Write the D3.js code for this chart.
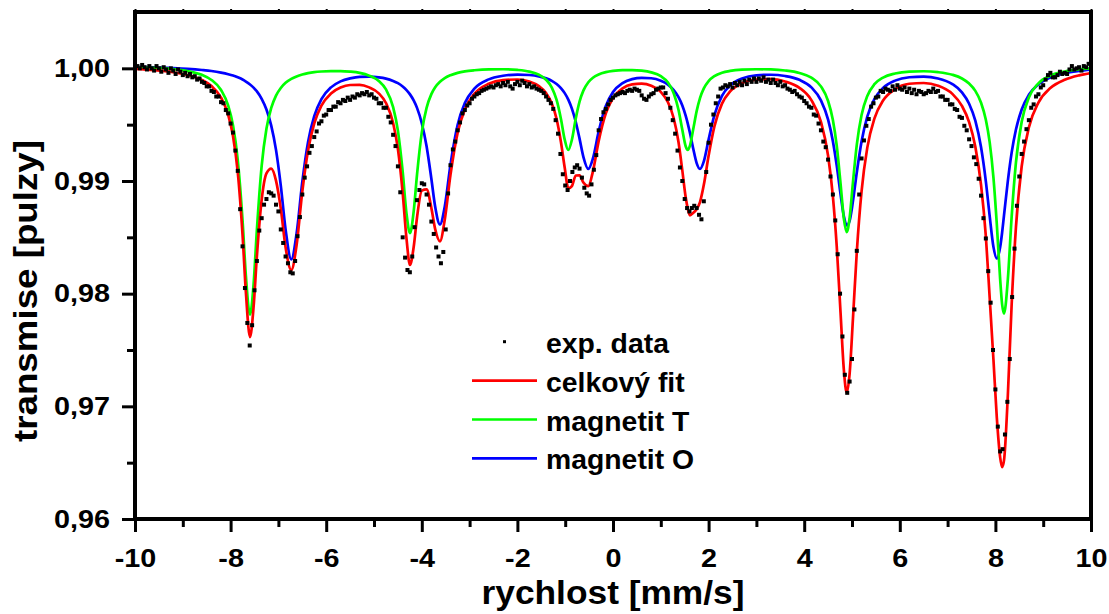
<!DOCTYPE html>
<html><head><meta charset="utf-8">
<script src="https://cdn.jsdelivr.net/npm/d3@7"></script>
<style>
html,body{margin:0;padding:0;background:#fff;}
svg{display:block;font-family:"Liberation Sans",Arial,sans-serif;font-weight:bold;}
</style></head><body>
<svg id="chart" width="1109" height="614"></svg>
<script>
// ---------- data ----------
const xTicks = [-10,-8,-6,-4,-2,0,2,4,6,8,10];
const xMinorTicks = [-9,-7,-5,-3,-1,1,3,5,7,9];
const yTicks = [0.96,0.97,0.98,0.99,1.00];
const yTickLabels = ["0,96","0,97","0,98","0,99","1,00"];
const yMinorTicks = [0.965,0.975,0.985,0.995];
const xTitle = "rychlost [mm/s]";
const yTitle = "transmise [pulzy]";
const legendLabels = ["exp. data","celkový fit","magnetit T","magnetit O"];

// fitted curves, sampled (velocity in mm/s, transmission)
const fitVelocity = [-10,-9.6,-9.2,-8.9,-8.6,-8.4,-8.2,-8.05,-7.95,-7.85,
-7.75,-7.68,-7.594,-7.52,-7.45,-7.35,-7.25,-7.15,-7.05,-6.95,
-6.85,-6.73,-6.62,-6.5,-6.38,-6.25,-6.1,-5.9,-5.7,-5.5,
-5.3,-5.1,-4.9,-4.75,-4.6,-4.5,-4.4,-4.32,-4.247,-4.17,
-4.1,-4.0,-3.9,-3.8,-3.72,-3.62,-3.52,-3.4,-3.25,-3.1,
-2.9,-2.6,-2.3,-2.0,-1.75,-1.55,-1.4,-1.28,-1.18,-1.09,
-1.01,-0.935,-0.86,-0.78,-0.7,-0.62,-0.516,-0.42,-0.3,-0.15,
0,0.2,0.4,0.6,0.8,1.0,1.15,1.27,1.37,1.45,
1.52,1.563,1.61,1.68,1.75,1.82,1.9,2.0,2.12,2.28,
2.45,2.7,3.0,3.3,3.6,3.9,4.15,4.35,4.5,4.6,
4.68,4.76,4.83,4.89,4.95,5.02,5.1,5.2,5.32,5.47,
5.65,5.9,6.2,6.5,6.8,7.1,7.3,7.45,7.58,7.7,
7.8,7.88,7.96,8.03,8.1,8.14,8.18,8.26,8.34,8.43,
8.55,8.7,8.9,9.15,9.45,9.75,10];

const fitTotal = [0.99995,0.99984,0.99965,0.99941,0.99897,0.99843,0.99740,0.99585,0.99399,0.99076,
0.98521,0.98011,0.97615,0.97878,0.98332,0.98833,0.99067,0.99110,0.99003,0.98755,
0.98412,0.98210,0.98430,0.98907,0.99271,0.99512,0.99669,0.99777,0.99829,0.99852,
0.99854,0.99831,0.99778,0.99692,0.99515,0.99285,0.98894,0.98488,0.98255,0.98414,
0.98676,0.98915,0.98926,0.98761,0.98573,0.98465,0.98656,0.99054,0.99428,0.99634,
0.99774,0.99863,0.99896,0.99901,0.99882,0.99842,0.99780,0.99688,0.99550,0.99348,
0.99117,0.98935,0.98955,0.99049,0.99050,0.98987,0.98954,0.99086,0.99354,0.99601,
0.99736,0.99822,0.99857,0.99864,0.99846,0.99791,0.99699,0.99557,0.99346,0.99094,
0.98858,0.98757,0.98695,0.98718,0.98749,0.98813,0.98966,0.99224,0.99483,0.99687,
0.99795,0.99869,0.99900,0.99904,0.99883,0.99827,0.99718,0.99525,0.99224,0.98864,
0.98424,0.97834,0.97321,0.97122,0.97289,0.97779,0.98367,0.98907,0.99296,0.99556,
0.99714,0.99815,0.99863,0.99870,0.99846,0.99773,0.99667,0.99522,0.99304,0.98964,
0.98511,0.97966,0.97409,0.96897,0.96545,0.96460,0.96520,0.97096,0.97904,0.98592,
0.99131,0.99475,0.99696,0.99825,0.99899,0.99938,0.99958];

const fitMagnetitT = [1.00012,1.00005,0.99993,0.99975,0.99942,0.99897,0.99808,0.99668,0.99494,0.99186,
0.98650,0.98158,0.97813,0.98079,0.98567,0.99134,0.99463,0.99648,0.99758,0.99826,
0.99871,0.99906,0.99928,0.99945,0.99957,0.99966,0.99972,0.99976,0.99976,0.99971,
0.99960,0.99935,0.99887,0.99813,0.99656,0.99447,0.99083,0.98711,0.98538,0.98729,
0.99057,0.99432,0.99649,0.99771,0.99832,0.99881,0.99914,0.99939,0.99960,0.99973,
0.99983,0.99991,0.99992,0.99986,0.99971,0.99943,0.99899,0.99829,0.99719,0.99553,
0.99367,0.99275,0.99366,0.99552,0.99704,0.99802,0.99877,0.99917,0.99946,0.99966,
0.99977,0.99984,0.99984,0.99979,0.99964,0.99930,0.99874,0.99779,0.99632,0.99454,
0.99308,0.99275,0.99314,0.99464,0.99620,0.99736,0.99822,0.99887,0.99930,0.99961,
0.99977,0.99988,0.99992,0.99990,0.99981,0.99959,0.99917,0.99840,0.99710,0.99542,
0.99315,0.98979,0.98665,0.98547,0.98672,0.98988,0.99321,0.99586,0.99755,0.99859,
0.99918,0.99954,0.99971,0.99974,0.99966,0.99943,0.99910,0.99865,0.99800,0.99695,
0.99544,0.99345,0.99026,0.98614,0.98125,0.97908,0.97823,0.98126,0.98682,0.99165,
0.99526,0.99741,0.99867,0.99935,0.99972,0.99991,1.00000];

const fitMagnetitO = [1.00013,1.00009,1.00002,0.99995,0.99985,0.99976,0.99962,0.99948,0.99936,0.99920,
0.99901,0.99883,0.99857,0.99829,0.99795,0.99729,0.99634,0.99492,0.99276,0.98959,
0.98571,0.98305,0.98532,0.98992,0.99345,0.99576,0.99726,0.99831,0.99884,0.99911,
0.99925,0.99926,0.99920,0.99909,0.99888,0.99868,0.99839,0.99807,0.99769,0.99715,
0.99649,0.99513,0.99308,0.99020,0.98771,0.98614,0.98772,0.99145,0.99498,0.99691,
0.99820,0.99902,0.99934,0.99945,0.99941,0.99929,0.99911,0.99889,0.99861,0.99825,
0.99780,0.99722,0.99642,0.99526,0.99376,0.99215,0.99107,0.99200,0.99438,0.99665,
0.99789,0.99869,0.99904,0.99916,0.99912,0.99890,0.99856,0.99807,0.99744,0.99670,
0.99580,0.99512,0.99426,0.99284,0.99159,0.99107,0.99174,0.99367,0.99583,0.99756,
0.99848,0.99910,0.99938,0.99943,0.99932,0.99898,0.99831,0.99715,0.99544,0.99353,
0.99139,0.98885,0.98686,0.98605,0.98647,0.98821,0.99076,0.99351,0.99571,0.99728,
0.99826,0.99891,0.99921,0.99926,0.99910,0.99860,0.99787,0.99686,0.99535,0.99299,
0.98997,0.98691,0.98413,0.98313,0.98414,0.98541,0.98694,0.98999,0.99252,0.99457,
0.99635,0.99765,0.99859,0.99919,0.99957,0.99977,0.99988];

// experimental points: channels from -10 mm/s in steps of 0.05 mm/s
const expStartVelocity = -10;
const expStepVelocity = 0.05;
const expTransmission = [
0.9999,1.0002,1.0000,1.0003,1.0001,0.9999,1.0002,1.0000,0.9998,1.0002,
1.0000,0.9997,1.0001,0.9999,0.9996,1.0000,0.9998,0.9995,0.9999,0.9997,
0.9994,0.9996,0.9993,0.9995,0.9992,0.9993,0.9990,0.9991,0.9988,
0.9987,0.9984,0.9984,0.9980,0.9979,0.9975,0.9975,0.9970,0.9969,0.9963,
0.9960,0.9951,0.9943,0.9927,0.9909,0.9875,0.9842,0.9805,0.9774,0.9754,
0.9772,0.9803,0.9829,0.9856,0.9867,0.9879,0.9884,0.9890,0.9889,0.9887,
0.9879,0.9873,0.9857,0.9845,0.9833,0.9827,0.9819,0.9818,0.9829,0.9851,0.9868,
0.9888,0.9903,0.9913,0.9925,0.9931,0.9939,0.9944,0.9951,0.9953,0.9958,
0.9959,0.9963,0.9963,0.9966,0.9966,0.9970,0.9969,0.9972,0.9971,0.9974,
0.9972,0.9975,0.9974,0.9977,0.9976,0.9978,0.9977,0.9979,0.9976,0.9977,0.9974,
0.9973,0.9969,0.9969,0.9965,0.9965,0.9957,0.9952,0.9941,0.9931,0.9913,
0.9890,0.9850,0.9832,0.9821,0.9819,0.9833,0.9859,0.9883,0.9892,0.9898,
0.9897,0.9888,0.9879,0.9864,0.9853,0.9841,0.9833,0.9827,0.9837,0.9857,
0.9889,0.9914,0.9928,0.9935,0.9945,0.9952,0.9960,0.9963,0.9967,0.9969,
0.9973,0.9975,0.9977,0.9978,0.9980,0.9981,0.9982,0.9983,0.9984,0.9983,
0.9985,0.9986,0.9984,0.9987,0.9985,0.9988,0.9984,0.9982,0.9986,0.9988,
0.9985,0.9989,0.9987,0.9984,0.9986,0.9983,0.9984,0.9982,0.9981,0.9980,
0.9978,0.9975,0.9972,0.9969,0.9964,0.9954,0.9942,0.9924,0.9906,0.9896,
0.9892,0.9900,0.9908,0.9912,0.9914,0.9911,0.9903,0.9894,0.9889,0.9887,
0.9897,0.9910,0.9923,0.9945,0.9955,0.9961,0.9964,0.9968,0.9972,0.9974,
0.9976,0.9977,0.9978,0.9979,0.9978,0.9980,0.9981,0.9980,0.9982,0.9981,
0.9980,0.9976,0.9973,0.9972,0.9975,0.9977,0.9978,0.9981,0.9982,0.9983,
0.9983,0.9978,0.9973,0.9965,0.9954,0.9942,0.9927,0.9912,0.9900,0.9884,
0.9876,0.9873,0.9876,0.9878,0.9876,0.9870,0.9866,0.9882,0.9908,0.9934,
0.9950,0.9959,0.9969,0.9975,0.9982,0.9983,0.9985,0.9984,0.9986,0.9983,
0.9987,0.9985,0.9988,0.9985,0.9989,0.9986,0.9990,0.9988,0.9991,0.9988,
0.9991,0.9989,0.9992,0.9988,0.9990,0.9987,0.9990,0.9987,0.9985,0.9988,
0.9984,0.9985,0.9982,0.9981,0.9979,0.9980,0.9977,0.9975,0.9974,0.9971,
0.9969,0.9966,0.9965,0.9959,0.9958,0.9951,0.9945,0.9935,0.9930,0.9919,
0.9904,0.9888,0.9865,0.9835,0.9800,0.9762,0.9728,0.9712,0.9722,0.9742,
0.9786,0.9838,0.9888,0.9920,0.9936,0.9949,0.9955,0.9966,0.9969,0.9974,
0.9975,0.9980,0.9979,0.9982,0.9981,0.9980,0.9984,0.9981,0.9985,0.9982,
0.9981,0.9983,0.9979,0.9982,0.9978,0.9981,0.9977,0.9980,0.9979,0.9977,
0.9978,0.9980,0.9979,0.9982,0.9979,0.9980,0.9975,0.9975,0.9972,0.9972,
0.9968,0.9968,0.9964,0.9963,0.9957,0.9956,0.9949,0.9945,0.9937,0.9931,
0.9921,0.9915,0.9902,0.9887,0.9867,0.9849,0.9820,0.9792,0.9750,0.9715,
0.9682,0.9660,0.9662,0.9675,0.9704,0.9742,0.9797,0.9840,0.9878,0.9904,
0.9924,0.9935,0.9946,0.9954,0.9965,0.9968,0.9975,0.9977,0.9983,0.9985,
0.9990,0.9994,0.9996,0.9992,0.9992,0.9994,0.9997,0.9995,0.9996,0.9995,
0.9999,1.0002,0.9999,1.0000,1.0001,0.9998,1.0002,1.0001,1.0004,1.0003];

const seriesColors = {total:"#ff0000", T:"#00ff00", O:"#0000ff"};

// ---------- layout ----------
const svg = d3.select("#chart");
const plot = {left:135, right:1091, top:12, bottom:519};
const x = d3.scaleLinear().domain([-10,10]).range([plot.left, plot.right]);
const y = d3.scaleLinear().domain([0.96,1.005]).range([plot.bottom, plot.top]);

svg.append("defs").append("clipPath").attr("id","clip")
  .append("rect").attr("x",plot.left).attr("y",plot.top)
  .attr("width",plot.right-plot.left).attr("height",plot.bottom-plot.top);

const stretch = (sel, f) => sel.each(function(){
  const w = this.getComputedTextLength();
  d3.select(this).attr("textLength", w*f).attr("lengthAdjust","spacingAndGlyphs");
});

// ---------- curves ----------
const gPlot = svg.append("g").attr("clip-path","url(#clip)");
const mkLine = vals => d3.line()
  .x((d,i)=>x(fitVelocity[i])).y((d,i)=>y(vals[i]))
  .curve(d3.curveMonotoneX)(fitVelocity);

[[fitMagnetitO, seriesColors.O],[fitMagnetitT, seriesColors.T],[fitTotal, seriesColors.total]]
.forEach(([vals,col]) => {
  gPlot.append("path").attr("d", mkLine(vals)).attr("fill","none")
    .attr("stroke",col).attr("stroke-width",2.7).attr("stroke-linejoin","round");
});

// ---------- experimental points ----------
const ds = 4;
gPlot.selectAll("rect.pt").data(expTransmission).join("rect").attr("class","pt")
  .attr("x",(d,i)=>x(expStartVelocity + i*expStepVelocity)-ds/2)
  .attr("y",d=>y(d)-ds/2).attr("width",ds).attr("height",ds).attr("fill","#000");

// ---------- axes ----------
const axisStyle = g => {
  g.select(".domain").remove();
  g.selectAll(".tick line").attr("stroke","#000").attr("stroke-width",3);
  g.selectAll(".tick text").attr("fill","#000").attr("font-size",25)
    .attr("font-family",'"Liberation Sans",Arial,sans-serif').attr("font-weight","bold");
};
const gxMinor = svg.append("g").attr("transform",`translate(0,${plot.bottom})`)
  .call(d3.axisBottom(x).tickValues(xMinorTicks).tickSize(8).tickFormat(""));
axisStyle(gxMinor);
const gx = svg.append("g").attr("transform",`translate(0,${plot.bottom})`)
  .call(d3.axisBottom(x).tickValues(xTicks).tickSize(13).tickPadding(17).tickFormat(d=>String(d)));
axisStyle(gx);
stretch(gx.selectAll(".tick text"), 1.15);

const gtop = svg.append("g").attr("transform",`translate(0,${plot.top})`)
  .call(d3.axisTop(x).tickValues(xTicks.concat(xMinorTicks)).tickSize(3).tickFormat(""));
axisStyle(gtop);
gtop.selectAll(".tick line").attr("stroke-width",2);

const gyMinor = svg.append("g").attr("transform",`translate(${plot.left},0)`)
  .call(d3.axisLeft(y).tickValues(yMinorTicks).tickSize(8).tickFormat(""));
axisStyle(gyMinor);
const gy = svg.append("g").attr("transform",`translate(${plot.left},0)`)
  .call(d3.axisLeft(y).tickValues(yTicks).tickSize(13).tickPadding(12).tickFormat((d,i)=>yTickLabels[i]));
axisStyle(gy);
stretch(gy.selectAll(".tick text"), 1.15);

// frame
svg.append("rect").attr("x",plot.left).attr("y",plot.top)
  .attr("width",plot.right-plot.left).attr("height",plot.bottom-plot.top)
  .attr("fill","none").attr("stroke","#000").attr("stroke-width",4);

// titles
svg.append("text").attr("x",(plot.left+plot.right)/2).attr("y",604)
  .attr("text-anchor","middle").attr("font-size",34).attr("fill","#000")
  .attr("textLength",263).attr("lengthAdjust","spacingAndGlyphs").text(xTitle);
svg.append("text").attr("transform","translate(37,291) rotate(-90)")
  .attr("text-anchor","middle").attr("font-size",33).attr("fill","#000")
  .attr("textLength",302).attr("lengthAdjust","spacingAndGlyphs").text(yTitle);

// ---------- legend ----------
const legendSymbols = ["dot", seriesColors.total, seriesColors.T, seriesColors.O];
const leg = svg.append("g");
legendLabels.forEach((lab,i) => {
  const base = 352.7 + i*38.9;
  if (legendSymbols[i] === "dot") {
    leg.append("rect").attr("x",503).attr("y",base-11-1.5).attr("width",3).attr("height",3).attr("fill","#000");
  } else {
    leg.append("line").attr("x1",472).attr("x2",537).attr("y1",base-11).attr("y2",base-11)
      .attr("stroke",legendSymbols[i]).attr("stroke-width",2.7);
  }
  const t = leg.append("text").attr("x",546).attr("y",base).attr("font-size",27)
    .attr("fill","#000").text(lab);
  stretch(t, 1.05);
});
</script>
</body></html>
